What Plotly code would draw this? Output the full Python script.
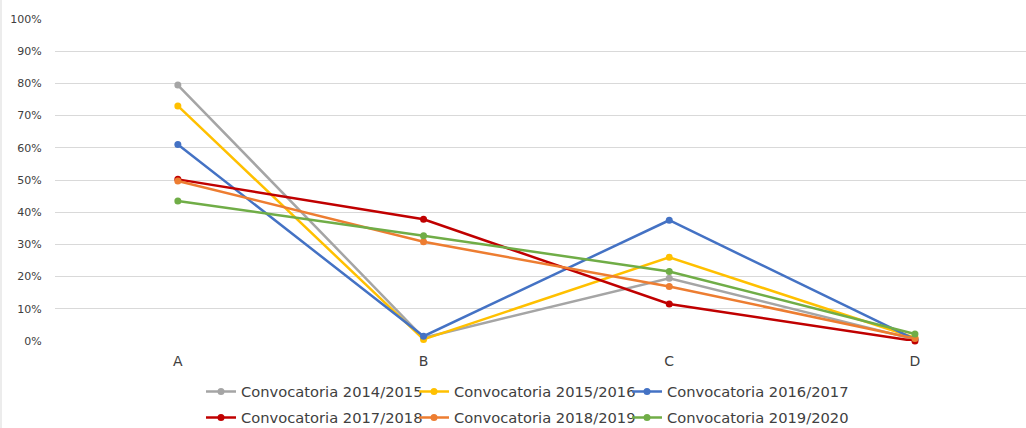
import plotly.graph_objects as go

categories = ["A", "B", "C", "D"]
series_names = [
    "Convocatoria 2014/2015",
    "Convocatoria 2015/2016",
    "Convocatoria 2016/2017",
    "Convocatoria 2017/2018",
    "Convocatoria 2018/2019",
    "Convocatoria 2019/2020",
]
v_2014_2015 = [0.795, 0.010, 0.195, 0.005]
v_2015_2016 = [0.730, 0.005, 0.260, 0.010]
v_2016_2017 = [0.610, 0.015, 0.375, 0.005]
v_2017_2018 = [0.502, 0.378, 0.115, 0.000]
v_2018_2019 = [0.497, 0.308, 0.169, 0.008]
v_2019_2020 = [0.435, 0.327, 0.216, 0.022]
series_values = [v_2014_2015, v_2015_2016, v_2016_2017, v_2017_2018, v_2018_2019, v_2019_2020]
colors = ["#A5A5A5", "#FFC000", "#4472C4", "#C00000", "#ED7D31", "#70AD47"]
y_ticks = [i / 10 for i in range(11)]

FONT = "DejaVu Sans"
W, H = 1026, 428
L, R, T, B = 55, 0, 19, 87
pw = W - L - R
spacing = 245.7
xr_max = -0.5 + pw / spacing

fig = go.Figure()
legend_layouts = {}
for i, (name, vals, col) in enumerate(zip(series_names, series_values, colors)):
    key = "legend" if i == 0 else f"legend{i + 1}"
    fig.add_trace(go.Scatter(
        x=categories, y=vals, name=name, mode="lines+markers",
        line=dict(color=col, width=2.5),
        marker=dict(color=col, size=7),
        cliponaxis=False,
        legend=key,
        showlegend=True,
    ))
    col_i, row_i = i % 3, i // 3
    legend_layouts[key] = dict(
        x=(201 + 213 * col_i) / W, y=1 - (392 + 26 * row_i) / H,
        orientation="h", xanchor="left", yanchor="middle",
        xref="container", yref="container",
        font=dict(family=FONT, size=14.7, color="#404040"),
        bgcolor="rgba(0,0,0,0)", itemclick=False, borderwidth=0,
    )

fig.update_layout(
    width=W, height=H,
    showlegend=True,
    margin=dict(l=L, r=R, t=T, b=B, pad=0, autoexpand=False),
    paper_bgcolor="white", plot_bgcolor="white",
    font=dict(family=FONT, size=12, color="#404040"),
    xaxis=dict(
        type="category", range=[-0.5, xr_max], showgrid=False, zeroline=False,
        showline=False, ticks="outside", ticklen=7, tickcolor="rgba(0,0,0,0)",
        tickfont=dict(family=FONT, size=14, color="#404040"), automargin=False,
    ),
    yaxis=dict(
        range=[0, 1], tickvals=y_ticks, tickformat=".0%",
        showgrid=True, gridcolor="#D9D9D9", gridwidth=1, zeroline=False,
        showline=False, ticks="outside", ticklen=10, tickcolor="rgba(0,0,0,0)",
        tickfont=dict(family=FONT, size=11, color="#404040"), automargin=False,
    ),
    shapes=[dict(type="line", xref="paper", yref="paper",
                 x0=-(L - 1) / pw, x1=-(L - 1) / pw, y0=-B / (H - T - B), y1=1 + T / (H - T - B),
                 line=dict(color="#D9D9D9", width=1))],
    **legend_layouts,
)
fig.write_html(
    "out.html",
    config={"displayModeBar": False},
    post_script="document.body.style.margin='0';document.body.style.overflow='hidden';",
)
